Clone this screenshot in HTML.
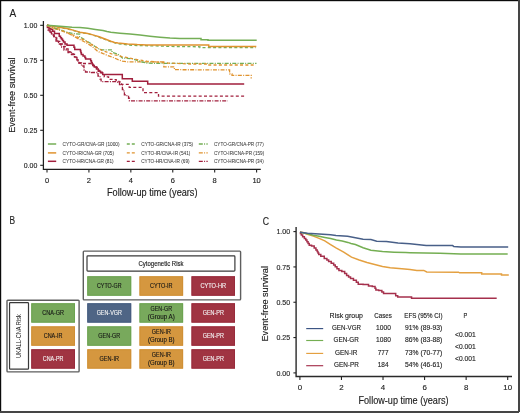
<!DOCTYPE html><html><head><meta charset="utf-8"><style>html,body{margin:0;padding:0;background:#fff;}svg{display:block;will-change:transform;}text{font-family:"Liberation Sans",sans-serif;}</style></head><body>
<svg width="520" height="413" viewBox="0 0 520 413">
<rect x="0" y="0" width="520" height="413" fill="#fff"/>
<text x="9.6" y="17" font-size="11.2" text-anchor="start" fill="#222" textLength="6.7" lengthAdjust="spacingAndGlyphs" stroke="#222" stroke-width="0.14">A</text>
<path d="M43.4,21 V169.3 H260.8" fill="none" stroke="#1e1e1e" stroke-width="1.25"/>
<line x1="40.2" y1="25.30" x2="43.4" y2="25.30" stroke="#222" stroke-width="1.1"/>
<text x="37.3" y="27.85" font-size="7.7" text-anchor="end" fill="#222" textLength="13.6" lengthAdjust="spacingAndGlyphs" stroke="#222" stroke-width="0.14">1.00</text>
<line x1="40.2" y1="60.30" x2="43.4" y2="60.30" stroke="#222" stroke-width="1.1"/>
<text x="37.3" y="62.849999999999994" font-size="7.7" text-anchor="end" fill="#222" textLength="13.6" lengthAdjust="spacingAndGlyphs" stroke="#222" stroke-width="0.14">0.75</text>
<line x1="40.2" y1="95.30" x2="43.4" y2="95.30" stroke="#222" stroke-width="1.1"/>
<text x="37.3" y="97.85" font-size="7.7" text-anchor="end" fill="#222" textLength="13.6" lengthAdjust="spacingAndGlyphs" stroke="#222" stroke-width="0.14">0.50</text>
<line x1="40.2" y1="130.30" x2="43.4" y2="130.30" stroke="#222" stroke-width="1.1"/>
<text x="37.3" y="132.85000000000002" font-size="7.7" text-anchor="end" fill="#222" textLength="13.6" lengthAdjust="spacingAndGlyphs" stroke="#222" stroke-width="0.14">0.25</text>
<line x1="40.2" y1="165.30" x2="43.4" y2="165.30" stroke="#222" stroke-width="1.1"/>
<text x="37.3" y="167.85000000000002" font-size="7.7" text-anchor="end" fill="#222" textLength="13.6" lengthAdjust="spacingAndGlyphs" stroke="#222" stroke-width="0.14">0.00</text>
<line x1="47.00" y1="169.3" x2="47.00" y2="172.4" stroke="#222" stroke-width="1.1"/>
<text x="47.0" y="182.7" font-size="7.5" text-anchor="middle" fill="#222" stroke="#222" stroke-width="0.14">0</text>
<line x1="88.92" y1="169.3" x2="88.92" y2="172.4" stroke="#222" stroke-width="1.1"/>
<text x="88.92" y="182.7" font-size="7.5" text-anchor="middle" fill="#222" stroke="#222" stroke-width="0.14">2</text>
<line x1="130.84" y1="169.3" x2="130.84" y2="172.4" stroke="#222" stroke-width="1.1"/>
<text x="130.84" y="182.7" font-size="7.5" text-anchor="middle" fill="#222" stroke="#222" stroke-width="0.14">4</text>
<line x1="172.76" y1="169.3" x2="172.76" y2="172.4" stroke="#222" stroke-width="1.1"/>
<text x="172.76" y="182.7" font-size="7.5" text-anchor="middle" fill="#222" stroke="#222" stroke-width="0.14">6</text>
<line x1="214.68" y1="169.3" x2="214.68" y2="172.4" stroke="#222" stroke-width="1.1"/>
<text x="214.68" y="182.7" font-size="7.5" text-anchor="middle" fill="#222" stroke="#222" stroke-width="0.14">8</text>
<line x1="256.60" y1="169.3" x2="256.60" y2="172.4" stroke="#222" stroke-width="1.1"/>
<text x="256.6" y="182.7" font-size="7.5" text-anchor="middle" fill="#222" stroke="#222" stroke-width="0.14">10</text>
<text x="107" y="196.3" font-size="10" text-anchor="start" fill="#222" textLength="90.5" lengthAdjust="spacingAndGlyphs" stroke="#222" stroke-width="0.14">Follow-up time (years)</text>
<text x="0" y="0" font-size="9.9" fill="#222" stroke="#222" stroke-width="0.14" text-anchor="middle" textLength="75.3" lengthAdjust="spacingAndGlyphs" transform="translate(15.1,95.15) rotate(-90)">Event-free survival</text>
<line x1="47.9" y1="144.0" x2="56.2" y2="144.0" stroke="#74ae56" stroke-width="1.5"/>
<text x="62.6" y="146.3" font-size="5.2" text-anchor="start" fill="#3a3a3a" textLength="57" lengthAdjust="spacingAndGlyphs" stroke="#3a3a3a" stroke-width="0.05">CYTO-GR/CNA-GR (1000)</text>
<line x1="47.9" y1="152.9" x2="56.2" y2="152.9" stroke="#e0932f" stroke-width="1.5"/>
<text x="62.6" y="155.0" font-size="5.2" text-anchor="start" fill="#3a3a3a" textLength="51.4" lengthAdjust="spacingAndGlyphs" stroke="#3a3a3a" stroke-width="0.05">CYTO-IR/CNA-GR (705)</text>
<line x1="47.9" y1="161.3" x2="56.2" y2="161.3" stroke="#a11f3d" stroke-width="1.5"/>
<text x="62.6" y="163.20000000000002" font-size="5.2" text-anchor="start" fill="#3a3a3a" textLength="51.1" lengthAdjust="spacingAndGlyphs" stroke="#3a3a3a" stroke-width="0.05">CYTO-HR/CNA-GR (81)</text>
<line x1="126.8" y1="144.0" x2="134.8" y2="144.0" stroke="#74ae56" stroke-width="1.3" stroke-dasharray="3,2"/>
<text x="141.2" y="146.3" font-size="5.2" text-anchor="start" fill="#3a3a3a" textLength="52" lengthAdjust="spacingAndGlyphs" stroke="#3a3a3a" stroke-width="0.05">CYTO-GR/CNA-IR (375)</text>
<line x1="126.8" y1="152.9" x2="134.8" y2="152.9" stroke="#e0932f" stroke-width="1.3" stroke-dasharray="3,2"/>
<text x="141.2" y="155.0" font-size="5.2" text-anchor="start" fill="#3a3a3a" textLength="49.2" lengthAdjust="spacingAndGlyphs" stroke="#3a3a3a" stroke-width="0.05">CYTO-IR/CNA-IR (541)</text>
<line x1="126.8" y1="161.3" x2="134.8" y2="161.3" stroke="#a11f3d" stroke-width="1.3" stroke-dasharray="3,2"/>
<text x="141.2" y="163.20000000000002" font-size="5.2" text-anchor="start" fill="#3a3a3a" textLength="48.4" lengthAdjust="spacingAndGlyphs" stroke="#3a3a3a" stroke-width="0.05">CYTO-HR/CNA-IR (69)</text>
<line x1="198.8" y1="144.0" x2="207.7" y2="144.0" stroke="#74ae56" stroke-width="1.3" stroke-dasharray="4,1.3,1,1.3"/>
<text x="214" y="146.3" font-size="5.2" text-anchor="start" fill="#3a3a3a" textLength="49.7" lengthAdjust="spacingAndGlyphs" stroke="#3a3a3a" stroke-width="0.05">CYTO-GR/CNA-PR (77)</text>
<line x1="198.8" y1="152.9" x2="207.7" y2="152.9" stroke="#e0932f" stroke-width="1.3" stroke-dasharray="4,1.3,1,1.3"/>
<text x="214" y="155.0" font-size="5.2" text-anchor="start" fill="#3a3a3a" textLength="50.2" lengthAdjust="spacingAndGlyphs" stroke="#3a3a3a" stroke-width="0.05">CYTO-IR/CNA-PR (159)</text>
<line x1="198.8" y1="161.3" x2="207.7" y2="161.3" stroke="#a11f3d" stroke-width="1.3" stroke-dasharray="4,1.3,1,1.3"/>
<text x="214" y="163.20000000000002" font-size="5.2" text-anchor="start" fill="#3a3a3a" textLength="49.7" lengthAdjust="spacingAndGlyphs" stroke="#3a3a3a" stroke-width="0.05">CYTO-HR/CNA-PR (34)</text>
<polyline points="47.00,25.30 48.00,25.30 48.00,29.00 49.00,29.00 50.00,29.00 50.00,32.00 51.00,32.00 52.00,32.00 52.00,35.00 53.00,35.00 54.00,35.00 54.00,37.50 55.00,37.50 56.00,37.50 56.00,41.00 57.00,41.00 58.50,41.00 58.50,44.00 60.00,44.00 61.00,44.00 61.00,47.00 62.00,47.00 64.00,47.00 64.00,50.00 66.00,50.00 68.00,50.00 68.00,52.50 70.00,52.50 71.50,52.50 71.50,54.50 73.00,54.50 74.50,54.50 74.50,57.50 76.00,57.50 77.00,57.50 77.00,61.00 78.00,61.00 79.00,61.00 79.00,63.00 80.00,63.00 81.50,63.00 81.50,66.00 83.00,66.00 84.00,66.00 84.00,70.00 85.00,70.00 85.50,70.00 85.50,72.00 86.00,72.00 91.50,72.00 91.50,72.50 97.00,72.50 98.00,72.50 98.00,76.00 99.00,76.00 100.05,76.00 100.05,79.10 101.10,79.10 101.10,81.70 116.00,81.70 117.00,81.70 117.00,82.20 118.00,82.20 119.50,82.20 119.50,84.70 121.00,84.70 122.40,84.70 122.40,89.50 123.80,89.50 124.00,89.50 124.00,92.15 124.40,92.15 124.40,94.80 124.60,94.80 126.35,94.80 126.35,95.60 128.10,95.60 128.55,95.60 128.55,98.25 129.45,98.25 129.45,100.90 129.90,100.90 227.80,100.90" fill="none" stroke="#a11f3d" stroke-width="1.3" stroke-dasharray="4,1.3,1,1.3" stroke-linejoin="miter"/>
<polyline points="47.00,25.30 47.35,25.30 47.35,27.65 48.05,27.65 48.05,30.00 48.40,30.00 49.20,30.00 49.20,32.50 50.00,32.50 51.50,32.50 51.50,34.50 53.00,34.50 53.75,34.50 53.75,36.25 55.25,36.25 55.25,38.00 56.00,38.00 56.75,38.00 56.75,39.70 58.25,39.70 58.25,41.40 59.00,41.40 60.50,41.40 60.50,44.00 62.00,44.00 63.50,44.00 63.50,46.50 65.00,46.50 66.50,46.50 66.50,49.00 68.00,49.00 69.00,49.00 69.00,52.00 70.00,52.00 71.50,52.00 71.50,54.00 73.00,54.00 74.50,54.00 74.50,57.00 76.00,57.00 77.00,57.00 77.00,60.00 78.00,60.00 79.00,60.00 79.00,63.00 80.00,63.00 81.50,63.00 81.50,63.50 83.00,63.50 90.00,63.50 91.00,63.50 91.00,65.00 92.00,65.00 93.50,65.00 93.50,67.00 95.00,67.00 96.00,67.00 96.00,67.50 97.00,67.50 98.50,67.50 98.50,70.50 100.00,70.50 100.75,70.50 100.75,72.25 102.25,72.25 102.25,74.00 103.00,74.00 104.25,74.00 104.25,76.90 105.50,76.90 108.55,76.90 108.55,79.30 111.60,79.30 113.90,79.30 113.90,79.60 116.20,79.60 116.20,81.30 118.85,81.30 118.85,81.80 121.50,81.80 121.50,84.30 129.20,84.30 129.20,87.40 143.00,87.40 143.00,92.60 158.50,92.60 158.50,96.20 245.80,96.20" fill="none" stroke="#a11f3d" stroke-width="1.3" stroke-dasharray="3,2.3" stroke-linejoin="miter"/>
<polyline points="47.00,25.30 47.70,25.30 47.70,26.90 48.40,26.90 49.10,26.90 49.10,28.40 49.80,28.40 50.90,28.40 50.90,29.40 52.00,29.40 52.70,29.40 52.70,31.30 53.40,31.30 54.50,31.30 54.50,33.40 55.60,33.40 57.05,33.40 57.05,33.60 58.50,33.60 59.25,33.60 59.25,36.30 60.00,36.30 60.50,36.30 60.50,37.65 61.50,37.65 61.50,39.00 62.00,39.00 62.50,39.00 62.50,40.50 63.50,40.50 63.50,42.00 64.00,42.00 65.00,42.00 65.00,44.00 66.00,44.00 67.00,44.00 67.00,45.20 68.00,45.20 73.60,45.20 73.97,45.20 73.97,47.30 74.72,47.30 74.72,49.40 75.10,49.40 80.20,49.40 80.43,49.40 80.43,51.10 80.90,51.10 80.90,52.80 81.37,52.80 81.37,54.50 81.60,54.50 83.05,54.50 83.05,56.00 84.50,56.00 84.88,56.00 84.88,57.45 85.62,57.45 85.62,58.90 86.00,58.90 90.30,58.90 90.67,58.90 90.67,60.70 91.42,60.70 91.42,62.50 91.80,62.50 92.15,62.50 92.15,63.95 92.85,63.95 92.85,65.40 93.20,65.40 94.30,65.40 94.30,66.90 95.40,66.90 96.50,66.90 96.50,69.10 97.60,69.10 98.30,69.10 98.30,71.20 99.00,71.20 100.50,71.20 100.50,72.70 102.00,72.70 102.70,72.70 102.70,74.60 103.40,74.60 122.30,74.60 122.30,78.80 132.30,78.80 132.30,81.20 147.70,81.20 147.70,84.00 244.20,84.00" fill="none" stroke="#a11f3d" stroke-width="1.5" stroke-linejoin="miter"/>
<polyline points="47.00,25.30 55.00,28.90 62.70,31.20 70.40,34.40 78.00,38.60 85.80,42.50 92.00,46.50 97.80,51.40 103.20,53.70 107.00,55.20 113.20,57.50 118.60,59.80 122.50,61.20 127.60,61.90 163.80,61.90 163.80,66.80 174.40,66.80 174.40,69.70 229.60,69.90 229.60,73.80 232.00,73.80 232.00,75.40 251.20,75.40 251.20,78.50" fill="none" stroke="#e0932f" stroke-width="1.3" stroke-dasharray="4,1.3,1,1.3" stroke-linejoin="miter"/>
<polyline points="47.00,25.30 52.00,27.40 60.00,29.60 67.00,32.20 75.00,33.80 79.60,34.20 79.60,36.60 84.00,39.30 90.00,43.00 95.00,46.50 99.40,49.10 102.50,49.80 112.00,49.80 112.00,52.20 117.80,54.10 122.50,58.10 132.40,58.70 142.00,62.00 146.80,63.00 156.50,63.40 256.50,63.40" fill="none" stroke="#74ae56" stroke-width="1.3" stroke-dasharray="4,1.3,1,1.3" stroke-linejoin="miter"/>
<polyline points="47.00,25.30 51.70,27.70 59.40,29.20 63.20,31.20 67.00,32.70 70.90,34.20 74.80,35.80 78.60,37.70 84.00,39.80 87.80,42.20 91.70,44.50 95.50,46.80 99.40,49.10 103.20,51.00 107.00,52.20 110.90,53.70 114.80,54.80 118.60,55.60 122.50,56.80 127.60,57.70 137.20,59.60 146.80,61.10 156.50,62.00 168.00,63.00 190.00,64.00 207.30,64.00 207.30,65.00 256.00,65.00" fill="none" stroke="#e0932f" stroke-width="1.3" stroke-dasharray="3,2.3" stroke-linejoin="miter"/>
<polyline points="47.00,25.30 60.00,27.60 70.00,29.50 80.00,32.60 88.00,33.70 95.40,35.90 103.00,38.60 110.80,41.70 118.00,43.80 127.60,44.90 137.20,45.60 156.50,45.90 168.00,46.40 200.00,46.80 200.00,47.60 256.00,47.60" fill="none" stroke="#74ae56" stroke-width="1.3" stroke-dasharray="3,2.3" stroke-linejoin="miter"/>
<polyline points="47.00,25.30 59.40,27.30 67.00,28.60 74.80,30.60 80.00,32.20 87.70,33.40 95.40,35.60 99.20,36.80 103.00,38.30 107.00,39.80 110.80,41.30 114.60,42.40 118.00,43.00 127.60,44.00 137.20,44.60 146.80,44.90 208.70,44.90 208.70,46.60 256.30,46.60" fill="none" stroke="#e0932f" stroke-width="1.5" stroke-linejoin="miter"/>
<polyline points="47.00,25.20 60.00,26.30 72.00,27.30 80.00,27.60 87.70,28.30 95.40,29.40 103.00,30.60 107.00,31.60 110.80,32.30 120.00,33.20 130.00,34.10 140.00,35.00 150.00,36.20 160.00,37.20 170.00,38.00 180.00,38.50 201.00,38.50 201.00,39.70 208.00,39.70 208.00,40.20 256.70,40.20" fill="none" stroke="#74ae56" stroke-width="1.5" stroke-linejoin="miter"/>
<text x="9.4" y="223.8" font-size="11" text-anchor="start" fill="#222" textLength="5.6" lengthAdjust="spacingAndGlyphs" stroke="#222" stroke-width="0.14">B</text>
<rect x="83.3" y="251.1" width="157.3" height="48.8" rx="0.8" fill="none" stroke="#5e5e5e" stroke-width="1.4"/>
<rect x="87.0" y="255.9" width="147.9" height="15.2" rx="0.8" fill="none" stroke="#3a3a3a" stroke-width="1.2"/>
<text x="138.5" y="265.9" font-size="6.4" text-anchor="start" fill="#222" textLength="45" lengthAdjust="spacingAndGlyphs" stroke="#222" stroke-width="0.14">Cytogenetic Risk</text>
<rect x="7.0" y="300.2" width="72.1" height="71.7" rx="0.8" fill="none" stroke="#5e5e5e" stroke-width="1.4"/>
<rect x="9.55" y="302.6" width="18.95" height="66.6" rx="0.8" fill="none" stroke="#3a3a3a" stroke-width="1.2"/>
<text x="0" y="0" font-size="6.6" fill="#222" text-anchor="middle" textLength="43.7" lengthAdjust="spacingAndGlyphs" transform="translate(21.1,336.1) rotate(-90)">UKALL-CNA Risk</text>
<rect x="87.3" y="276.3" width="43.9" height="19.4" fill="#78a95c"/>
<rect x="87.80" y="276.80" width="42.90" height="18.40" fill="none" stroke="#6ca350" stroke-width="1"/>
<text x="109.25" y="288.4" font-size="6.6" text-anchor="middle" fill="#151515" textLength="24.5" lengthAdjust="spacingAndGlyphs" stroke="#151515" stroke-width="0.12">CYTO-GR</text>
<rect x="139.5" y="276.3" width="43.6" height="19.4" fill="#d5973f"/>
<rect x="140.00" y="276.80" width="42.60" height="18.40" fill="none" stroke="#d08f35" stroke-width="1"/>
<text x="161.3" y="288.4" font-size="6.6" text-anchor="middle" fill="#151515" textLength="22.7" lengthAdjust="spacingAndGlyphs" stroke="#151515" stroke-width="0.12">CYTO-IR</text>
<rect x="191.5" y="276.3" width="43.5" height="19.4" fill="#a03442"/>
<rect x="192.00" y="276.80" width="42.50" height="18.40" fill="none" stroke="#982a3b" stroke-width="1"/>
<text x="213.25" y="288.4" font-size="6.6" text-anchor="middle" fill="#f4f4f4" textLength="25.6" lengthAdjust="spacingAndGlyphs" stroke="#f4f4f4" stroke-width="0.12">CYTO-HR</text>
<rect x="31.3" y="303.3" width="43.7" height="19.3" fill="#78a95c"/>
<rect x="31.80" y="303.80" width="42.70" height="18.30" fill="none" stroke="#6ca350" stroke-width="1"/>
<text x="53.15" y="315.35" font-size="6.6" text-anchor="middle" fill="#151515" textLength="21.7" lengthAdjust="spacingAndGlyphs" stroke="#151515" stroke-width="0.12">CNA-GR</text>
<rect x="31.3" y="326.4" width="43.7" height="19.3" fill="#d5973f"/>
<rect x="31.80" y="326.90" width="42.70" height="18.30" fill="none" stroke="#d08f35" stroke-width="1"/>
<text x="53.15" y="338.45" font-size="6.6" text-anchor="middle" fill="#151515" textLength="18.9" lengthAdjust="spacingAndGlyphs" stroke="#151515" stroke-width="0.12">CNA-IR</text>
<rect x="31.3" y="349.3" width="43.7" height="19.3" fill="#a03442"/>
<rect x="31.80" y="349.80" width="42.70" height="18.30" fill="none" stroke="#982a3b" stroke-width="1"/>
<text x="53.15" y="361.35" font-size="6.6" text-anchor="middle" fill="#f4f4f4" textLength="20.7" lengthAdjust="spacingAndGlyphs" stroke="#f4f4f4" stroke-width="0.12">CNA-PR</text>
<rect x="87.3" y="303.3" width="43.9" height="19.3" fill="#4f6585"/>
<rect x="87.80" y="303.80" width="42.90" height="18.30" fill="none" stroke="#455c80" stroke-width="1"/>
<text x="109.25" y="315.35" font-size="6.6" text-anchor="middle" fill="#f4f4f4" textLength="25.1" lengthAdjust="spacingAndGlyphs" stroke="#f4f4f4" stroke-width="0.12">GEN-VGR</text>
<rect x="139.5" y="303.3" width="43.6" height="19.3" fill="#78a95c"/>
<rect x="140.00" y="303.80" width="42.60" height="18.30" fill="none" stroke="#6ca350" stroke-width="1"/>
<text x="161.3" y="311.15" font-size="6.6" text-anchor="middle" fill="#151515" textLength="21.5" lengthAdjust="spacingAndGlyphs" stroke="#151515" stroke-width="0.12">GEN-GR</text>
<text x="161.3" y="318.55" font-size="6.6" text-anchor="middle" fill="#151515" textLength="27.1" lengthAdjust="spacingAndGlyphs" stroke="#151515" stroke-width="0.12">(Group A)</text>
<rect x="191.5" y="303.3" width="43.5" height="19.3" fill="#a03442"/>
<rect x="192.00" y="303.80" width="42.50" height="18.30" fill="none" stroke="#982a3b" stroke-width="1"/>
<text x="213.25" y="315.35" font-size="6.6" text-anchor="middle" fill="#f4f4f4" textLength="21.2" lengthAdjust="spacingAndGlyphs" stroke="#f4f4f4" stroke-width="0.12">GEN-PR</text>
<rect x="87.3" y="326.4" width="43.9" height="19.3" fill="#78a95c"/>
<rect x="87.80" y="326.90" width="42.90" height="18.30" fill="none" stroke="#6ca350" stroke-width="1"/>
<text x="109.25" y="338.45" font-size="6.6" text-anchor="middle" fill="#151515" textLength="21.8" lengthAdjust="spacingAndGlyphs" stroke="#151515" stroke-width="0.12">GEN-GR</text>
<rect x="139.5" y="326.4" width="43.6" height="19.3" fill="#d5973f"/>
<rect x="140.00" y="326.90" width="42.60" height="18.30" fill="none" stroke="#d08f35" stroke-width="1"/>
<text x="161.3" y="334.25" font-size="6.6" text-anchor="middle" fill="#151515" textLength="19.1" lengthAdjust="spacingAndGlyphs" stroke="#151515" stroke-width="0.12">GEN-IR</text>
<text x="161.3" y="341.65" font-size="6.6" text-anchor="middle" fill="#151515" textLength="26.7" lengthAdjust="spacingAndGlyphs" stroke="#151515" stroke-width="0.12">(Group B)</text>
<rect x="191.5" y="326.4" width="43.5" height="19.3" fill="#a03442"/>
<rect x="192.00" y="326.90" width="42.50" height="18.30" fill="none" stroke="#982a3b" stroke-width="1"/>
<text x="213.25" y="338.45" font-size="6.6" text-anchor="middle" fill="#f4f4f4" textLength="21.2" lengthAdjust="spacingAndGlyphs" stroke="#f4f4f4" stroke-width="0.12">GEN-PR</text>
<rect x="87.3" y="349.3" width="43.9" height="19.3" fill="#d5973f"/>
<rect x="87.80" y="349.80" width="42.90" height="18.30" fill="none" stroke="#d08f35" stroke-width="1"/>
<text x="109.25" y="361.35" font-size="6.6" text-anchor="middle" fill="#151515" textLength="19.4" lengthAdjust="spacingAndGlyphs" stroke="#151515" stroke-width="0.12">GEN-IR</text>
<rect x="139.5" y="349.3" width="43.6" height="19.3" fill="#d5973f"/>
<rect x="140.00" y="349.80" width="42.60" height="18.30" fill="none" stroke="#d08f35" stroke-width="1"/>
<text x="161.3" y="357.15" font-size="6.6" text-anchor="middle" fill="#151515" textLength="19.1" lengthAdjust="spacingAndGlyphs" stroke="#151515" stroke-width="0.12">GEN-IR</text>
<text x="161.3" y="364.55" font-size="6.6" text-anchor="middle" fill="#151515" textLength="26.7" lengthAdjust="spacingAndGlyphs" stroke="#151515" stroke-width="0.12">(Group B)</text>
<rect x="191.5" y="349.3" width="43.5" height="19.3" fill="#a03442"/>
<rect x="192.00" y="349.80" width="42.50" height="18.30" fill="none" stroke="#982a3b" stroke-width="1"/>
<text x="213.25" y="361.35" font-size="6.6" text-anchor="middle" fill="#f4f4f4" textLength="21.2" lengthAdjust="spacingAndGlyphs" stroke="#f4f4f4" stroke-width="0.12">GEN-PR</text>
<text x="262.8" y="224.5" font-size="11.4" text-anchor="start" fill="#222" textLength="6.3" lengthAdjust="spacingAndGlyphs" stroke="#222" stroke-width="0.14">C</text>
<path d="M296.1,227 V376.5 H512" fill="none" stroke="#2a2a2a" stroke-width="1.4"/>
<line x1="293.4" y1="231.60" x2="296" y2="231.60" stroke="#222" stroke-width="1.1"/>
<text x="290.1" y="234.25" font-size="8.0" text-anchor="end" fill="#222" textLength="13.7" lengthAdjust="spacingAndGlyphs" stroke="#222" stroke-width="0.14">1.00</text>
<line x1="293.4" y1="266.93" x2="296" y2="266.93" stroke="#222" stroke-width="1.1"/>
<text x="290.1" y="269.575" font-size="8.0" text-anchor="end" fill="#222" textLength="13.7" lengthAdjust="spacingAndGlyphs" stroke="#222" stroke-width="0.14">0.75</text>
<line x1="293.4" y1="302.25" x2="296" y2="302.25" stroke="#222" stroke-width="1.1"/>
<text x="290.1" y="304.9" font-size="8.0" text-anchor="end" fill="#222" textLength="13.7" lengthAdjust="spacingAndGlyphs" stroke="#222" stroke-width="0.14">0.50</text>
<line x1="293.4" y1="337.57" x2="296" y2="337.57" stroke="#222" stroke-width="1.1"/>
<text x="290.1" y="340.22499999999997" font-size="8.0" text-anchor="end" fill="#222" textLength="13.7" lengthAdjust="spacingAndGlyphs" stroke="#222" stroke-width="0.14">0.25</text>
<line x1="293.4" y1="372.90" x2="296" y2="372.90" stroke="#222" stroke-width="1.1"/>
<text x="290.1" y="375.54999999999995" font-size="8.0" text-anchor="end" fill="#222" textLength="13.7" lengthAdjust="spacingAndGlyphs" stroke="#222" stroke-width="0.14">0.00</text>
<line x1="299.90" y1="376.5" x2="299.90" y2="380" stroke="#222" stroke-width="1.1"/>
<text x="299.9" y="389.9" font-size="7.9" text-anchor="middle" fill="#222" stroke="#222" stroke-width="0.14">0</text>
<line x1="341.46" y1="376.5" x2="341.46" y2="380" stroke="#222" stroke-width="1.1"/>
<text x="341.46" y="389.9" font-size="7.9" text-anchor="middle" fill="#222" stroke="#222" stroke-width="0.14">2</text>
<line x1="383.02" y1="376.5" x2="383.02" y2="380" stroke="#222" stroke-width="1.1"/>
<text x="383.02" y="389.9" font-size="7.9" text-anchor="middle" fill="#222" stroke="#222" stroke-width="0.14">4</text>
<line x1="424.58" y1="376.5" x2="424.58" y2="380" stroke="#222" stroke-width="1.1"/>
<text x="424.58" y="389.9" font-size="7.9" text-anchor="middle" fill="#222" stroke="#222" stroke-width="0.14">6</text>
<line x1="466.14" y1="376.5" x2="466.14" y2="380" stroke="#222" stroke-width="1.1"/>
<text x="466.14" y="389.9" font-size="7.9" text-anchor="middle" fill="#222" stroke="#222" stroke-width="0.14">8</text>
<line x1="507.70" y1="376.5" x2="507.70" y2="380" stroke="#222" stroke-width="1.1"/>
<text x="507.7" y="389.9" font-size="7.9" text-anchor="middle" fill="#222" stroke="#222" stroke-width="0.14">10</text>
<text x="358.5" y="403.5" font-size="10.2" text-anchor="start" fill="#222" textLength="90" lengthAdjust="spacingAndGlyphs" stroke="#222" stroke-width="0.14">Follow-up time (years)</text>
<text x="0" y="0" font-size="9.7" fill="#222" stroke="#222" stroke-width="0.14" text-anchor="middle" textLength="75.4" lengthAdjust="spacingAndGlyphs" transform="translate(268.0,303.8) rotate(-90)">Event-free survival</text>
<polyline points="300.00,232.20 300.45,232.20 300.45,233.55 301.35,233.55 301.35,234.90 301.80,234.90 302.65,234.90 302.65,236.65 304.35,236.65 304.35,238.40 305.20,238.40 305.77,238.40 305.77,240.10 306.93,240.10 306.93,241.80 307.50,241.80 308.07,241.80 308.07,243.55 309.23,243.55 309.23,245.30 309.80,245.30 311.55,245.30 311.55,245.90 313.30,245.90 314.18,245.90 314.18,247.90 315.93,247.90 315.93,249.90 316.80,249.90 317.18,249.90 317.18,251.43 317.95,251.43 317.95,252.97 318.72,252.97 318.72,254.50 319.10,254.50 320.80,254.50 320.80,256.30 322.50,256.30 324.25,256.30 324.25,258.60 326.00,258.60 326.88,258.60 326.88,260.05 328.62,260.05 328.62,261.50 329.50,261.50 331.20,261.50 331.20,263.20 332.90,263.20 333.67,263.20 333.67,264.95 335.23,264.95 335.23,266.70 336.00,266.70 336.98,266.70 336.98,268.65 338.92,268.65 338.92,270.60 339.90,270.60 341.80,270.60 341.80,271.60 343.70,271.60 344.68,271.60 344.68,273.55 346.62,273.55 346.62,275.50 347.60,275.50 348.58,275.50 348.58,276.95 350.52,276.95 350.52,278.40 351.50,278.40 353.45,278.40 353.45,280.30 355.40,280.30 356.35,280.30 356.35,282.25 358.25,282.25 358.25,284.20 359.20,284.20 363.10,284.20 363.10,284.60 367.00,284.60 368.50,284.60 368.50,286.00 370.00,286.00 372.30,286.00 372.30,286.50 374.60,286.50 375.03,286.50 375.03,288.25 375.88,288.25 375.88,290.00 376.30,290.00 378.65,290.00 378.65,290.60 381.00,290.60 381.85,290.60 381.85,292.05 383.55,292.05 383.55,293.50 384.40,293.50 395.40,293.50 395.70,293.50 395.70,295.80 396.00,295.80 397.70,295.80 397.70,296.90 399.40,296.90 411.00,296.90 411.55,296.90 411.55,298.30 412.10,298.30 496.70,298.30" fill="none" stroke="#a5304c" stroke-width="1.5" stroke-linejoin="miter"/>
<polyline points="300.00,232.20 302.90,232.60 307.50,234.30 313.30,236.10 319.10,238.40 324.80,240.90 330.60,244.60 336.40,248.20 343.70,252.20 351.50,257.10 359.20,260.00 367.00,262.50 374.70,264.40 382.50,266.40 390.20,267.70 401.90,268.70 410.00,269.50 416.90,270.40 423.80,270.40 426.70,272.00 458.50,272.20 459.60,272.80 481.70,272.80 481.70,274.10 501.50,274.10 501.50,275.00 508.80,275.00" fill="none" stroke="#e4a040" stroke-width="1.5" stroke-linejoin="miter"/>
<polyline points="300.00,232.20 307.50,233.80 313.30,235.20 319.10,236.30 324.80,237.50 330.60,238.60 336.40,240.10 342.20,240.90 347.90,242.40 351.00,243.50 355.40,244.50 363.10,247.80 370.90,250.30 382.50,251.60 394.10,252.20 405.70,252.60 410.00,252.70 440.00,253.30 460.80,254.00 507.70,254.10" fill="none" stroke="#74ae52" stroke-width="1.5" stroke-linejoin="miter"/>
<polyline points="300.00,232.20 307.50,233.20 319.10,234.00 330.60,234.70 336.00,235.40 347.60,236.30 355.40,237.70 363.10,239.20 370.90,239.60 376.70,241.20 386.40,241.60 398.00,243.10 410.00,243.80 414.60,244.30 421.50,244.90 426.20,245.60 452.70,245.60 453.80,246.60 460.80,246.90 508.20,246.90" fill="none" stroke="#485f88" stroke-width="1.5" stroke-linejoin="miter"/>
<text x="329.6" y="318.2" font-size="7.7" text-anchor="start" fill="#222" textLength="33.4" lengthAdjust="spacingAndGlyphs" stroke="#222" stroke-width="0.14">Risk group</text>
<text x="374.3" y="318.2" font-size="7.7" text-anchor="start" fill="#222" textLength="17.6" lengthAdjust="spacingAndGlyphs" stroke="#222" stroke-width="0.14">Cases</text>
<text x="404.3" y="318.2" font-size="7.7" text-anchor="start" fill="#222" textLength="38.3" lengthAdjust="spacingAndGlyphs" stroke="#222" stroke-width="0.14">EFS (95% CI)</text>
<text x="463.6" y="318.2" font-size="7.7" text-anchor="start" fill="#222" textLength="3.8" lengthAdjust="spacingAndGlyphs" stroke="#222" stroke-width="0.14">P</text>
<line x1="306.2" y1="328.6" x2="323.2" y2="328.6" stroke="#3c5584" stroke-width="1.15"/>
<text x="332" y="330.0" font-size="7.7" text-anchor="start" fill="#222" textLength="29" lengthAdjust="spacingAndGlyphs" stroke="#222" stroke-width="0.14">GEN-VGR</text>
<text x="376.1" y="330.0" font-size="7.7" text-anchor="start" fill="#222" textLength="14.8" lengthAdjust="spacingAndGlyphs" stroke="#222" stroke-width="0.14">1000</text>
<text x="405" y="330.0" font-size="7.7" text-anchor="start" fill="#222" textLength="37.2" lengthAdjust="spacingAndGlyphs" stroke="#222" stroke-width="0.14">91% (89-93)</text>
<line x1="306.2" y1="340.5" x2="323.2" y2="340.5" stroke="#74ae52" stroke-width="1.15"/>
<text x="333.5" y="342.3" font-size="7.7" text-anchor="start" fill="#222" textLength="25.3" lengthAdjust="spacingAndGlyphs" stroke="#222" stroke-width="0.14">GEN-GR</text>
<text x="376.1" y="342.3" font-size="7.7" text-anchor="start" fill="#222" textLength="14.8" lengthAdjust="spacingAndGlyphs" stroke="#222" stroke-width="0.14">1080</text>
<text x="405" y="342.3" font-size="7.7" text-anchor="start" fill="#222" textLength="37.2" lengthAdjust="spacingAndGlyphs" stroke="#222" stroke-width="0.14">86% (83-88)</text>
<line x1="306.2" y1="353.4" x2="323.2" y2="353.4" stroke="#e4a040" stroke-width="1.15"/>
<text x="335.1" y="354.7" font-size="7.7" text-anchor="start" fill="#222" textLength="22.4" lengthAdjust="spacingAndGlyphs" stroke="#222" stroke-width="0.14">GEN-IR</text>
<text x="377.7" y="354.7" font-size="7.7" text-anchor="start" fill="#222" textLength="10.8" lengthAdjust="spacingAndGlyphs" stroke="#222" stroke-width="0.14">777</text>
<text x="405" y="354.7" font-size="7.7" text-anchor="start" fill="#222" textLength="37.2" lengthAdjust="spacingAndGlyphs" stroke="#222" stroke-width="0.14">73% (70-77)</text>
<line x1="306.2" y1="365.7" x2="323.2" y2="365.7" stroke="#a5304c" stroke-width="1.15"/>
<text x="334" y="367.0" font-size="7.7" text-anchor="start" fill="#222" textLength="24.8" lengthAdjust="spacingAndGlyphs" stroke="#222" stroke-width="0.14">GEN-PR</text>
<text x="377.7" y="367.0" font-size="7.7" text-anchor="start" fill="#222" textLength="10.8" lengthAdjust="spacingAndGlyphs" stroke="#222" stroke-width="0.14">184</text>
<text x="405" y="367.0" font-size="7.7" text-anchor="start" fill="#222" textLength="37.2" lengthAdjust="spacingAndGlyphs" stroke="#222" stroke-width="0.14">54% (46-61)</text>
<text x="455" y="336.7" font-size="7.7" text-anchor="start" fill="#222" textLength="20.7" lengthAdjust="spacingAndGlyphs" stroke="#222" stroke-width="0.14">&lt;0.001</text>
<text x="455" y="348.8" font-size="7.7" text-anchor="start" fill="#222" textLength="20.7" lengthAdjust="spacingAndGlyphs" stroke="#222" stroke-width="0.14">&lt;0.001</text>
<text x="455" y="360.9" font-size="7.7" text-anchor="start" fill="#222" textLength="20.7" lengthAdjust="spacingAndGlyphs" stroke="#222" stroke-width="0.14">&lt;0.001</text>
<rect x="0" y="0" width="519" height="1.2" fill="#0a0a0a"/>
<rect x="0" y="0" width="1.2" height="412" fill="#0a0a0a"/>
<rect x="518" y="0" width="2" height="412" fill="#454545"/>
<rect x="0" y="411" width="519" height="2" fill="#454545"/>
</svg></body></html>
